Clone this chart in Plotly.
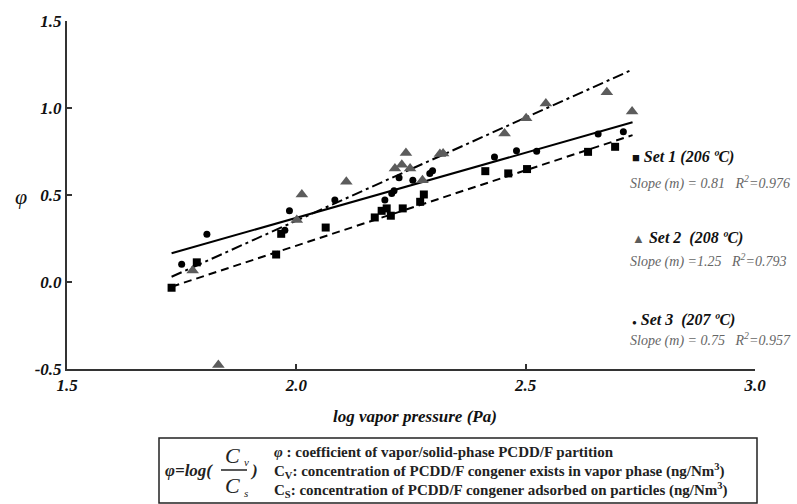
import plotly.graph_objects as go

# ---------------- data ----------------
set1_x = [1.728, 1.783, 1.956, 1.967, 2.064, 2.171, 2.186, 2.197, 2.206, 2.232,
          2.270, 2.278, 2.412, 2.462, 2.503, 2.636, 2.695]
set1_y = [-0.033, 0.113, 0.158, 0.277, 0.313, 0.371, 0.409, 0.423, 0.381, 0.423,
          0.461, 0.503, 0.637, 0.624, 0.649, 0.748, 0.777]

set2_x = [1.774, 1.830, 2.001, 2.012, 2.109, 2.215, 2.230, 2.239, 2.248, 2.275,
          2.313, 2.320, 2.454, 2.501, 2.544, 2.677, 2.732]
set2_y = [0.066, -0.477, 0.356, 0.503, 0.576, 0.653, 0.674, 0.741, 0.653, 0.585,
          0.735, 0.738, 0.854, 0.941, 1.026, 1.090, 0.980]

set3_x = [1.750, 1.805, 1.975, 1.985, 2.084, 2.193, 2.208, 2.213, 2.224, 2.254,
          2.291, 2.297, 2.432, 2.480, 2.524, 2.658, 2.713]
set3_y = [0.102, 0.274, 0.298, 0.409, 0.471, 0.471, 0.509, 0.524, 0.599, 0.585,
          0.624, 0.639, 0.718, 0.754, 0.752, 0.850, 0.863]

# trend lines (end values)
fit_x = [1.728, 2.733]
set1_fit = [-0.027, 0.844]
set2_fit = [0.030, 1.221]
set3_fit = [0.165, 0.918]

x_ticks = [1.5, 2.0, 2.5, 3.0]
x_tick_labels = ["1.5", "2.0", "2.5", "3.0"]
y_ticks = [-0.5, 0.0, 0.5, 1.0, 1.5]
y_tick_labels = ["-0.5", "0.0", "0.5", "1.0", "1.5"]

set_names = ["Set 1 (206 ºC)", "Set 2&nbsp;&nbsp;(208 ºC)", "Set 3&nbsp;&nbsp;(207 ºC)"]
set_stats = ["Slope (m) = 0.81&nbsp;&nbsp;&nbsp;R<sup>2</sup>=0.976",
             "Slope (m) =1.25&nbsp;&nbsp;&nbsp;R<sup>2</sup>=0.793",
             "Slope (m) = 0.75&nbsp;&nbsp;&nbsp;R<sup>2</sup>=0.957"]

# ---------------- styling ----------------
SERIF = "Liberation Serif, Times New Roman, serif"
GRAY = "#5c5c5c"
W, H = 797, 504
L, R, T, B = 67, 755, 21, 369


def px(x):
    return (x - L) / (R - L)


def py(y):
    return (B - y) / (B - T)


fig = go.Figure()

fig.add_trace(go.Scatter(x=fit_x, y=set2_fit, mode="lines",
                         line=dict(color="black", width=2, dash="11px,4px,3px,4px"),
                         showlegend=False, hoverinfo="skip"))
fig.add_trace(go.Scatter(x=fit_x, y=set1_fit, mode="lines",
                         line=dict(color="black", width=2, dash="8px,5px"),
                         showlegend=False, hoverinfo="skip"))
fig.add_trace(go.Scatter(x=fit_x, y=set3_fit, mode="lines",
                         line=dict(color="black", width=2),
                         showlegend=False, hoverinfo="skip"))

fig.add_trace(go.Scatter(x=set2_x, y=set2_y, mode="markers",
                         marker=dict(symbol="triangle-up", size=11, color=GRAY),
                         showlegend=False, cliponaxis=False))
fig.add_trace(go.Scatter(x=set1_x, y=set1_y, mode="markers",
                         marker=dict(symbol="square", size=8, color="black"),
                         showlegend=False))
fig.add_trace(go.Scatter(x=set3_x, y=set3_y, mode="markers",
                         marker=dict(symbol="circle", size=7, color="black"),
                         showlegend=False))

tickfont = dict(family=SERIF, size=17, color="#111")
fig.update_xaxes(range=[1.5, 3.0], tickvals=x_ticks, ticktext=[f"<b><i>{t}</i></b>" for t in x_tick_labels],
                 showgrid=False, zeroline=False, showline=True, linecolor="#333", linewidth=2,
                 ticks="inside", ticklen=5, tickwidth=2, tickcolor="#333", tickfont=tickfont)
fig.update_yaxes(range=[-0.5, 1.5], tickvals=y_ticks, ticktext=[f"<b><i>{t}</i></b>" for t in y_tick_labels],
                 showgrid=False, zeroline=False, showline=True, linecolor="#333", linewidth=2,
                 ticks="inside", ticklen=5, tickwidth=2, tickcolor="#333", tickfont=tickfont)

ann = []


def add_text(x, y, text, size, color="#222", xanchor="center"):
    ann.append(dict(x=px(x), y=py(y), xref="paper", yref="paper", showarrow=False,
                    xanchor=xanchor, yanchor="middle", text=text,
                    font=dict(family=SERIF, size=size, color=color)))


# axis titles
add_text(415, 416, "<b><i>log vapor pressure (Pa)</i></b>", 17, "#111")
add_text(21, 196, "<i>φ</i>", 22, "#111")

# legend-like labels at right
sym = ["<span style='font-size:13px'>■</span>", f"<span style='color:{GRAY};font-size:13px'>▲</span>",
       "<span style='font-size:8px'>●</span>"]
name_y = [157, 238, 320]
stat_y = [182, 260, 339]
for i in range(3):
    add_text(630, name_y[i], f"{sym[i]} <b><i>{set_names[i]}</i></b>", 16, "#111", "left")
    add_text(628, stat_y[i], f"<i>{set_stats[i]}</i>", 14, "#666", "left")

# formula box
fig.add_shape(type="rect", xref="paper", yref="paper",
              x0=px(159), x1=px(757), y0=py(503), y1=py(438),
              line=dict(color="#222", width=1.5), fillcolor="rgba(0,0,0,0)")
fig.add_shape(type="line", xref="paper", yref="paper",
              x0=px(221), x1=px(247), y0=py(470), y1=py(470),
              line=dict(color="#222", width=1.5))
add_text(163, 470, "<b><i>φ=log(</i></b>", 17, xanchor="left")
add_text(232, 455, "<i>C</i>", 22)
add_text(242, 462, "<i>v</i>", 11, xanchor="left")
add_text(232, 485, "<i>C</i>", 22)
add_text(242, 493, "<i>s</i>", 11, xanchor="left")
add_text(248, 470, "<b><i>)</i></b>", 17, xanchor="left")

box_lines = ["<i>φ</i> : coefficient of vapor/solid-phase PCDD/F partition",
             "C<sub>V</sub>: concentration of PCDD/F congener exists in vapor phase (ng/Nm<sup>3</sup>)",
             "C<sub>S</sub>: concentration of PCDD/F congener adsorbed on particles (ng/Nm<sup>3</sup>)"]
box_y = [452, 471, 490]
for t, yy in zip(box_lines, box_y):
    add_text(272, yy, f"<b>{t}</b>", 15, xanchor="left")

fig.update_layout(width=W, height=H, margin=dict(l=L, r=W - R, t=T, b=H - B),
                  plot_bgcolor="white", paper_bgcolor="white", annotations=ann,
                  showlegend=False)

fig.write_html("out.html", config={"displayModeBar": False},
               post_script="document.body.style.margin='0';document.body.style.overflow='hidden';")
